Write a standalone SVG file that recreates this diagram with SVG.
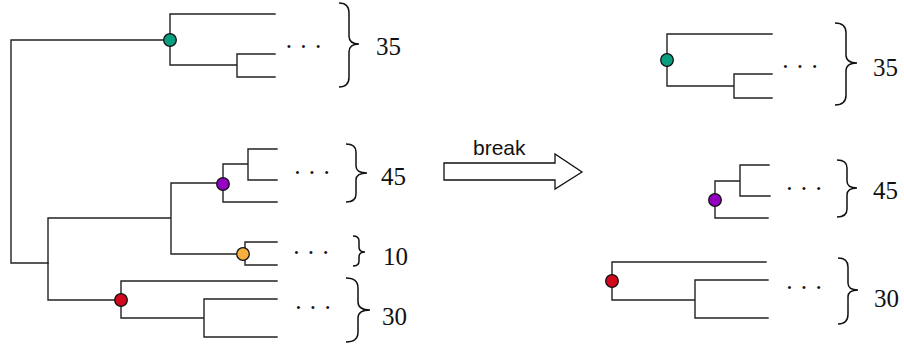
<svg xmlns="http://www.w3.org/2000/svg" width="904" height="347" viewBox="0 0 904 347">
<style>
.br{fill:none;stroke:#222;stroke-width:1.4;stroke-linecap:square}
.brace{fill:none;stroke:#111;stroke-width:1.5}
.nd{stroke:#111;stroke-width:1.3}
.num{font-family:"Liberation Serif",serif;font-size:25px;fill:#111}
.dots{font-family:"Liberation Serif",serif;font-size:25px;fill:#111;text-anchor:middle}
.lbl{font-family:"Liberation Sans",Arial,sans-serif;font-size:21px;fill:#111}
</style>
<g id="connectors">
  <path class="br" d="M170,40 H11 V263 H48 M275,14 H170 V65 H237 M275,54 H237 V77 H275"/>
  <path class="br" d="M48,218 V300 M48,218 H171 M171,183 V254 H243 M171,183 H223 M277,149 H248 V180 H277 M248,164 H223 V202 H277 M277,242 H245 V265 H277 M48,300 H121 M277,281 H121 V318 H204 M277,299 H204 V337 H277"/>
  <path class="br" d="M772,34 H667 V86 H734 M772,74 H734 V98 H772"/>
  <path class="br" d="M769,165 H740 V196 H770 M740,181 H715 V218 H768"/>
  <path class="br" d="M766,262 H612 V300 H695 M768,280 H695 V318 H768"/>
</g>
<g id="node-green-left"><circle class="nd" cx="170" cy="40" r="6.3" fill="#0a9e80"/></g>
<g id="node-purple-left"><circle class="nd" cx="223" cy="184" r="6.3" fill="#9400c2"/></g>
<g id="node-orange-left"><circle class="nd" cx="243" cy="254" r="6.3" fill="#f6b03e"/></g>
<g id="node-red-left"><circle class="nd" cx="121" cy="300" r="6.3" fill="#d2091c"/></g>
<g id="node-green-right"><circle class="nd" cx="667" cy="60" r="6.3" fill="#0a9e80"/></g>
<g id="node-purple-right"><circle class="nd" cx="715" cy="200" r="6.3" fill="#9400c2"/></g>
<g id="node-red-right"><circle class="nd" cx="612" cy="281" r="6.3" fill="#d2091c"/></g>
<g id="group-35-left">
  <text class="dots" x="303.5" y="55">· · ·</text>
  <path class="brace" d="M339,3 Q349,3 349,13 L349,36 Q349,44 359,44 Q349,44 349,52 L349,77 Q349,87 339,87"/>
  <text class="num" x="376" y="55">35</text>
</g>
<g id="group-45-left">
  <text class="dots" x="312" y="181">· · ·</text>
  <path class="brace" d="M346,144 Q356,144 356,152 L356,166 Q356,173 367,173 Q356,173 356,180 L356,194 Q356,202 346,202"/>
  <text class="num" x="381" y="185">45</text>
</g>
<g id="group-10-left">
  <text class="dots" x="311" y="261">· · ·</text>
  <path class="brace" d="M353,236 Q359,236 359,241 L359,247 Q359,252 365,252 Q359,252 359,257 L359,261 Q359,266 353,266"/>
  <text class="num" x="383" y="265">10</text>
</g>
<g id="group-30-left">
  <text class="dots" x="313" y="316">· · ·</text>
  <path class="brace" d="M346,278 Q358,278 358,288 L358,302 Q358,310 370,310 Q358,310 358,318 L358,332 Q358,342 346,342"/>
  <text class="num" x="382" y="325">30</text>
</g>
<g id="break-arrow">
  <polygon points="444,163 555,163 555,154 582,172 555,189 555,180 444,180" fill="#fff" stroke="#111" stroke-width="1.3"/>
  <text class="lbl" x="473" y="155">break</text>
</g>
<g id="group-35-right">
  <text class="dots" x="800" y="75">· · ·</text>
  <path class="brace" d="M835,23 Q846,23 846,33 L846,55 Q846,63 857,63 Q846,63 846,71 L846,95 Q846,105 835,105"/>
  <text class="num" x="873" y="76">35</text>
</g>
<g id="group-45-right">
  <text class="dots" x="804" y="197">· · ·</text>
  <path class="brace" d="M837,160 Q847,160 847,168 L847,181 Q847,188 857,188 Q847,188 847,195 L847,209 Q847,217 837,217"/>
  <text class="num" x="873" y="199">45</text>
</g>
<g id="group-30-right">
  <text class="dots" x="804" y="296">· · ·</text>
  <path class="brace" d="M838,258 Q848,258 848,267 L848,283 Q848,290 858,290 Q848,290 848,297 L848,314 Q848,324 838,324"/>
  <text class="num" x="874" y="307">30</text>
</g>
</svg>
